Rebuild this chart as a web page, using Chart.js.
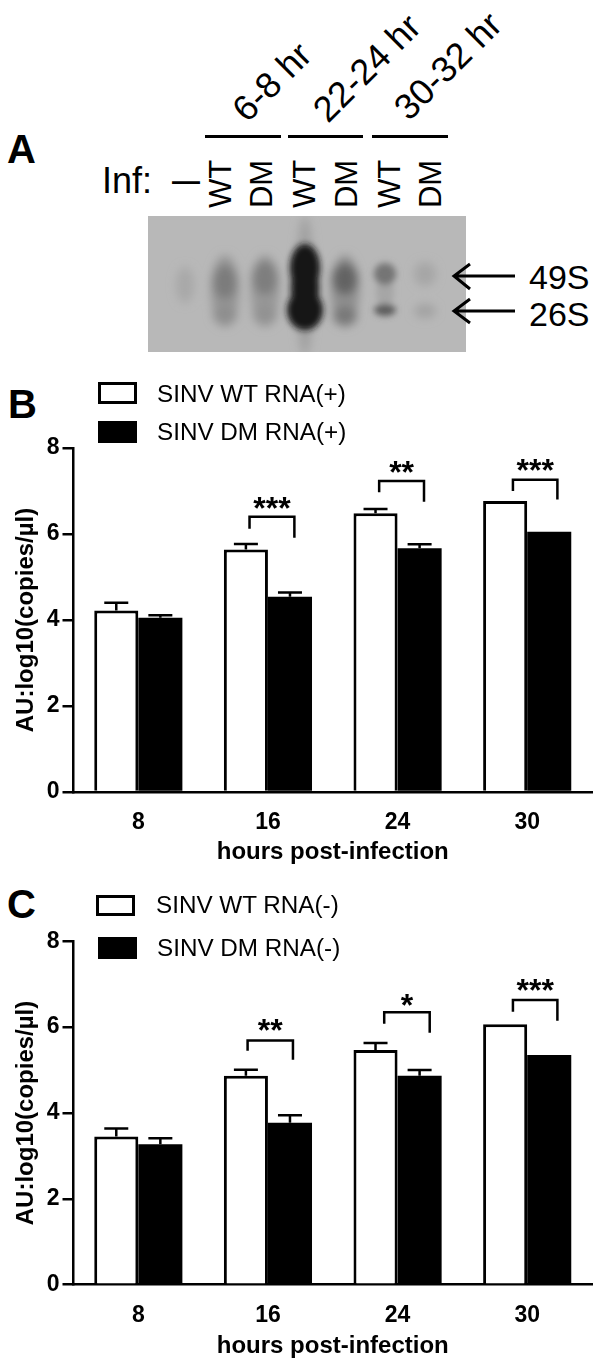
<!DOCTYPE html>
<html>
<head>
<meta charset="utf-8">
<script src="https://cdn.jsdelivr.net/npm/chart.js@4.4.4/dist/chart.umd.js"></script>
<style>
  html, body { margin: 0; padding: 0; background: #fff; }
  body { width: 602px; height: 1364px; position: relative; overflow: hidden; font-family: "Liberation Sans", Arial, sans-serif; color: #000; }
  canvas { position: absolute; left: 0; }
  .t { position: absolute; white-space: nowrap; line-height: 1; }
  .c { transform: translate(-50%, -50%); }
  .panel { font-weight: bold; font-size: 40px; }
  .diag { font-size: 36px; transform: translate(-50%, -50%) rotate(-45deg); }
  .lane { font-size: 31px; transform: translate(-50%, -50%) rotate(-90deg); }
  .rule { position: absolute; height: 3px; top: 135px; background: #000; }
  .swatch { position: absolute; box-sizing: border-box; border: 3px solid #000; }
  .legend-text { font-size: 24.25px; transform: translateY(-50%); }
  svg { position: absolute; left: 0; top: 0; }
</style>
</head>
<body>

<div class="t panel" style="left:7px;top:129px">A</div>
<div class="t panel" style="left:8px;top:384px">B</div>
<div class="t panel" style="left:7px;top:884px">C</div>

<div class="t diag" style="left:272px;top:82px">6-8 hr</div>
<div class="t diag" style="left:367px;top:68px">22-24 hr</div>
<div class="t diag" style="left:448px;top:66px">30-32 hr</div>
<div class="rule" style="left:205px;width:76px"></div>
<div class="rule" style="left:288px;width:75px"></div>
<div class="rule" style="left:372px;width:76px"></div>

<div class="t c" style="left:127px;top:181px;font-size:36px">Inf:</div>
<div class="t c" style="left:186px;top:181px;font-size:28px;font-weight:bold">—</div>
<div class="t lane" style="left:220px;top:184px">WT</div>
<div class="t lane" style="left:261px;top:184px">DM</div>
<div class="t lane" style="left:304px;top:184px">WT</div>
<div class="t lane" style="left:346px;top:184px">DM</div>
<div class="t lane" style="left:389px;top:184px">WT</div>
<div class="t lane" style="left:430px;top:184px">DM</div>

<svg width="602" height="360">
  <defs>
    <filter id="b6" x="-80%" y="-80%" width="260%" height="260%"><feGaussianBlur stdDeviation="5"/></filter>
    <filter id="b4" x="-80%" y="-80%" width="260%" height="260%"><feGaussianBlur stdDeviation="3"/></filter>
    <clipPath id="gelclip"><rect x="148" y="216" width="318" height="136"/></clipPath>
  </defs>
  <g clip-path="url(#gelclip)">
    <rect x="148" y="216" width="318" height="136" fill="#b8b8b8"/>
    <g filter="url(#b6)">
      <ellipse cx="185" cy="285" rx="9" ry="18" fill="#a8a8a8"/>
      <ellipse cx="225" cy="291" rx="14" ry="36" fill="#969696"/>
      <ellipse cx="225" cy="282" rx="12" ry="17" fill="#7c7c7c"/>
      <ellipse cx="225" cy="315" rx="12" ry="10" fill="#8e8e8e"/>
      <ellipse cx="265" cy="291" rx="14" ry="36" fill="#989898"/>
      <ellipse cx="265" cy="278" rx="13" ry="17" fill="#7e7e7e"/>
      <ellipse cx="265" cy="315" rx="12" ry="10" fill="#929292"/>
      <ellipse cx="305" cy="286" rx="9" ry="70" fill="#a0a0a0"/>
      <ellipse cx="345" cy="291" rx="14" ry="36" fill="#909090"/>
      <ellipse cx="345" cy="279" rx="13" ry="16" fill="#646464"/>
      <ellipse cx="345" cy="316" rx="12" ry="10" fill="#787878"/>
      <ellipse cx="425" cy="274" rx="11" ry="12" fill="#a6a6a6"/>
      <ellipse cx="425" cy="311" rx="11" ry="7" fill="#a2a2a2"/>
    </g>
    <g filter="url(#b4)">
      <ellipse cx="305" cy="268" rx="15" ry="24" fill="#141414"/>
      <ellipse cx="305" cy="310" rx="18" ry="20" fill="#141414"/>
      <ellipse cx="305" cy="288" rx="14" ry="30" fill="#141414"/>
      <ellipse cx="385" cy="292" rx="9" ry="16" fill="#a6a6a6"/>
      <ellipse cx="385" cy="274" rx="11" ry="11" fill="#747474"/>
      <ellipse cx="385" cy="310" rx="11" ry="6" fill="#5c5c5c"/>
    </g>
  </g>
  <g fill="none" stroke="#000" stroke-width="3">
    <path d="M454 276 H515 M470 264 L454 276 L470 289"/>
    <path d="M454 311 H515 M470 299 L454 311 L470 323"/>
  </g>
</svg>
<div class="t" style="left:529px;top:260px;font-size:34px">49S</div>
<div class="t" style="left:529px;top:297px;font-size:34px">26S</div>

<canvas id="chartB" width="602" height="490" style="top:380px"></canvas>
<canvas id="chartC" width="602" height="494" style="top:870px"></canvas>

<div class="swatch" style="left:98px;top:382px;width:39px;height:22px;background:#fff"></div>
<div class="swatch" style="left:98px;top:421px;width:39px;height:22px;background:#000"></div>
<div class="t legend-text" style="left:157px;top:394px">SINV WT RNA(+)</div>
<div class="t legend-text" style="left:157px;top:432px">SINV DM RNA(+)</div>

<div class="swatch" style="left:96px;top:895px;width:39px;height:21px;background:#fff"></div>
<div class="swatch" style="left:98px;top:937px;width:39px;height:22px;background:#000"></div>
<div class="t legend-text" style="left:156px;top:905px">SINV WT RNA(-)</div>
<div class="t legend-text" style="left:157px;top:948px">SINV DM RNA(-)</div>

<script>
const hours = ["8", "16", "24", "30"];
const yTicks = [0, 2, 4, 6, 8];

// panel B, tops of bars and tops of the error whiskers
const plusWT = [4.22, 5.64, 6.48, 6.77];
const plusDM = [4.05, 4.54, 5.67, 6.05];
const plusWTErr = [4.4, 5.77, 6.58, 6.77];
const plusDMErr = [4.11, 4.64, 5.76, 6.05];

// panel C
const minusWT = [3.45, 4.87, 5.47, 6.07];
const minusDM = [3.27, 3.77, 4.87, 5.35];
const minusWTErr = [3.64, 5.01, 5.63, 6.07];
const minusDMErr = [3.41, 3.95, 5.0, 5.35];

// significance brackets, x in category units, y in axis units
const plusStars = ["***", "**", "***"];
const plusFrom = [0.858, 1.858, 2.89];
const plusTo = [1.204, 2.204, 3.233];
const plusTop = [6.4, 7.23, 7.26];
const plusLeftEnd = [6.12, 6.97, 7.0];
const plusRightEnd = [5.91, 6.75, 6.8];
const plusStarY = [6.7, 7.54, 7.57];

const minusStars = ["**", "*", "***"];
const minusFrom = [0.843, 1.897, 2.89];
const minusTo = [1.193, 2.248, 3.233];
const minusTop = [5.69, 6.35, 6.63];
const minusLeftEnd = [5.45, 6.08, 6.36];
const minusRightEnd = [5.24, 5.87, 6.15];
const minusStarY = [6.02, 6.6, 6.95];

const annotate = {
  id: "annotate",
  afterDatasetsDraw(chart, args, opts) {
    const { ctx, scales: { x, y } } = chart;
    const step = x.getPixelForTick(1) - x.getPixelForTick(0);
    const xAt = (v) => x.getPixelForTick(0) + v * step;

    ctx.save();
    ctx.strokeStyle = "#000";
    ctx.lineWidth = 2.5;

    // whiskers only go up
    opts.errors.forEach((errs, di) => {
      const bars = chart.getDatasetMeta(di).data;
      errs.forEach((err, i) => {
        if (err <= chart.data.datasets[di].data[i]) return;
        const cx = bars[i].x;
        const py = y.getPixelForValue(err);
        ctx.beginPath();
        ctx.moveTo(cx, y.getPixelForValue(chart.data.datasets[di].data[i]));
        ctx.lineTo(cx, py);
        ctx.moveTo(cx - 12, py);
        ctx.lineTo(cx + 12, py);
        ctx.stroke();
      });
    });

    ctx.fillStyle = "#000";
    ctx.font = "bold 32px 'Liberation Sans'";
    ctx.textAlign = "center";
    ctx.textBaseline = "alphabetic";
    opts.stars.forEach((s, i) => {
      const x0 = xAt(opts.from[i]);
      const x1 = xAt(opts.to[i]);
      const top = y.getPixelForValue(opts.bracketTop[i]);
      ctx.beginPath();
      ctx.moveTo(x0, y.getPixelForValue(opts.leftEnd[i]));
      ctx.lineTo(x0, top);
      ctx.lineTo(x1, top);
      ctx.lineTo(x1, y.getPixelForValue(opts.rightEnd[i]));
      ctx.stroke();
      // the glyph sits about 15px above its baseline
      ctx.fillText(s, (x0 + x1) / 2, y.getPixelForValue(opts.starY[i]) + 15);
    });
    ctx.restore();
  },
};

function initChart(id, wt, dm, opts) {
  const tickFont = { family: "'Liberation Sans'", size: 23, weight: "bold" };
  const titleFont = { family: "'Liberation Sans'", size: 24, weight: "bold" };
  return new Chart(document.getElementById(id), {
    type: "bar",
    plugins: [annotate],
    data: {
      labels: hours,
      datasets: [
        { label: opts.wtLabel, data: wt, backgroundColor: "#fff", borderColor: "#000", borderWidth: 3, borderSkipped: "start" },
        { label: opts.dmLabel, data: dm, backgroundColor: "#000", borderColor: "#000", borderWidth: 0 },
      ],
    },
    options: {
      responsive: false,
      animation: false,
      layout: { padding: { top: opts.padTop, right: 10, left: 0, bottom: 0 } },
      datasets: { bar: { categoryPercentage: 0.68, barPercentage: 1 } },
      plugins: {
        legend: { display: false },
        tooltip: { enabled: false },
        annotate: opts,
      },
      scales: {
        x: {
          grid: { display: false },
          border: { color: "#000", width: 2.5 },
          ticks: { color: "#000", font: tickFont, padding: 9, maxRotation: 0 },
          title: { display: true, text: "hours post-infection", color: "#000", font: titleFont, padding: { top: 0, bottom: opts.titleBottom } },
          afterFit(scale) { scale.height = opts.xHeight; },
        },
        y: {
          min: 0,
          max: 8,
          afterBuildTicks(scale) { scale.ticks = yTicks.map((value) => ({ value })); },
          grid: { drawOnChartArea: false, color: "#000", lineWidth: 2.5, tickLength: 11 },
          border: { color: "#000", width: 2.5 },
          ticks: { color: "#000", font: tickFont, padding: 3 },
          title: { display: true, text: "AU:log10(copies/µl)", color: "#000", font: titleFont, padding: { top: 12, bottom: 0 } },
          afterFit(scale) { scale.width = 73.5; },
        },
      },
    },
  });
}

initChart("chartB", plusWT, plusDM, {
  wtLabel: "SINV WT RNA(+)", dmLabel: "SINV DM RNA(+)",
  padTop: 68, xHeight: 78, titleBottom: 3,
  errors: [plusWTErr, plusDMErr],
  stars: plusStars, from: plusFrom, to: plusTo, bracketTop: plusTop, leftEnd: plusLeftEnd, rightEnd: plusRightEnd, starY: plusStarY,
});

initChart("chartC", minusWT, minusDM, {
  wtLabel: "SINV WT RNA(-)", dmLabel: "SINV DM RNA(-)",
  padTop: 71.3, xHeight: 79.3, titleBottom: 3,
  errors: [minusWTErr, minusDMErr],
  stars: minusStars, from: minusFrom, to: minusTo, bracketTop: minusTop, leftEnd: minusLeftEnd, rightEnd: minusRightEnd, starY: minusStarY,
});
</script>
</body>
</html>
